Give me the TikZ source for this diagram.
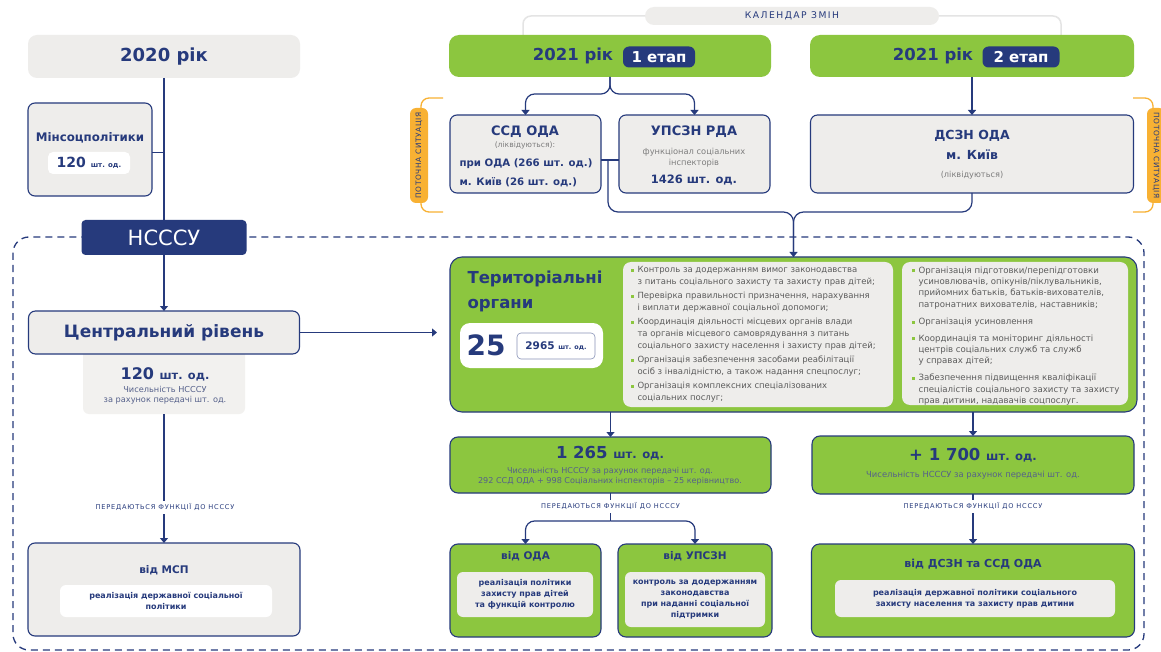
\documentclass[tikz,border=0pt]{standalone}
\usepackage{fontspec}
\setmainfont{DejaVu Sans}
\usetikzlibrary{arrows.meta}
\definecolor{navy}{HTML}{263A7C}
\definecolor{bgreen}{HTML}{8CC63F}
\definecolor{lgray}{HTML}{EEEDEB}
\definecolor{pgray}{HTML}{F2F1EF}
\definecolor{orng}{HTML}{F8B133}
\definecolor{tgray}{HTML}{5C5C5C}
\definecolor{cline}{HTML}{E4E4E4}
\definecolor{sgray}{HTML}{55608A}
\newcommand\myfs[2]{\fontsize{#1}{#2}\selectfont}
\newcommand\bu{\makebox[7pt][l]{\textcolor{bgreen}{\rule[0.6pt]{3pt}{3pt}}}}
\newcommand\ind{\hspace*{7pt}}
\tikzset{
  box/.style={inner sep=0pt, outer sep=0pt},
  graybox/.style={box, draw=navy, line width=1.1pt, fill=lgray, rounded corners=7pt},
  greenbox/.style={box, draw=navy, line width=1.1pt, fill=bgreen, rounded corners=8pt},
  conn/.style={draw=navy, line width=1.2pt},
  arr/.style={conn, -{Triangle[width=8pt,length=5pt]}},
  ttl/.style={text=navy, font=\bfseries\myfs{13}{15}},
  small/.style={text=sgray, font=\myfs{8.2}{10}, align=center},
  lbl/.style={box, fill=white, minimum height=13, text=navy, font=\myfs{6.6}{7}\addfontfeature{LetterSpace=12}},
  inner/.style={box, rounded corners=6pt, text=navy, align=center, font=\bfseries\myfs{8}{11}},
  opill/.style={box, fill=orng, rounded corners=6pt, minimum width=95, minimum height=18, text=navy, font=\myfs{7.4}{8}\addfontfeature{LetterSpace=8}},
  orline/.style={draw=orng, line width=1.3pt, rounded corners=8pt},
  ytitle/.style={text=navy, font=\bfseries\myfs{16.5}{17}},
  etap/.style={box, fill=navy, rounded corners=6pt, minimum height=21, text=white, font=\bfseries\myfs{15}{15}},
  bullets/.style={anchor=north west, align=left, text=tgray, font=\myfs{8.5}{11.7}}
}
\begin{document}
\begin{tikzpicture}[x=1pt,y=-1pt]
\useasboundingbox (0,0) rectangle (1161,652);
\fill[white] (0,0) rectangle (1161,652);

% dashed frame
\draw[navy, line width=1.3pt, dash pattern=on 7pt off 5pt, rounded corners=16pt] (13,237) rectangle (1144,650);

% ---------- left column ----------
\node[box, fill=lgray, rounded corners=9pt, minimum width=272, minimum height=43, text=navy, font=\bfseries\myfs{18}{18}] (y20) at (164,56.5) {2020 рік};
\node[graybox, minimum width=124, minimum height=93] (minsoc) at (90,149.5) {};
\node[ttl, font=\bfseries\myfs{11.8}{12}] (minsoct) at (90,138) {Мінсоцполітики};
\node[box, fill=white, rounded corners=5pt, minimum width=82, minimum height=22, text=navy] (minsocn) at (89,163) {\bfseries\myfs{14}{14}120 \myfs{7}{8}шт. од.};
\node[box, fill=navy, rounded corners=4pt, minimum width=165, minimum height=35, text=white, font=\myfs{21}{21}] (nsssu) at (164,237.5) {НСССУ};
\draw[conn] (y20.south) -- (nsssu.north);
\coordinate (mj) at (164,152.5);
\draw[conn] (minsoc.east |- mj) -- (mj);

\node[box, fill=pgray, rounded corners=6pt, minimum width=162, minimum height=69] (censub) at (164,379.5) {};
\node[graybox, minimum width=271, minimum height=43, ttl, font=\bfseries\myfs{17}{17}] (central) at (164,332.5) {Центральний рівень};
\node[text=navy, font=\bfseries] (cn) at (165,374) {\myfs{16}{16}120 \myfs{11.4}{12}шт. од.};
\node[small] (cs) at (165,395) {Чисельність НСССУ\\за рахунок передачі шт. од.};
\draw[arr] (nsssu.south) -- (central.north);
\coordinate (carr) at (437,332.5);
\draw[arr] (central.east) -- (carr);

\node[graybox, minimum width=272, minimum height=93] (msp) at (164,589.5) {};
\draw[arr] (censub.south) -- (msp.north);
\node[lbl, minimum width=166] (l1) at (165,507) {ПЕРЕДАЮТЬСЯ ФУНКЦІЇ ДО НСССУ};
\node[ttl, font=\bfseries\myfs{10.5}{11}] (mspt) at (164,570) {від МСП};
\node[inner, fill=white, minimum width=212, minimum height=32] (mspi) at (166,601) {реалізація державної соціальної\\політики};

% ---------- calendar ----------
\node[box, fill=lgray, rounded corners=9pt, minimum width=294, minimum height=18, text=navy, font=\myfs{9.2}{10}\addfontfeature{LetterSpace=16}] (cal) at (792,16) {КАЛЕНДАР ЗМІН};
\coordinate (cl) at (523,35);
\coordinate (cr) at (1061,35);
\draw[cline, line width=1.5pt, rounded corners=8pt] (cl) |- (cal.west);
\draw[cline, line width=1.5pt, rounded corners=8pt] (cal.east) -| (cr);

% ---------- 2021 stage 1 ----------
\node[box, fill=bgreen, rounded corners=10pt, minimum width=322, minimum height=42] (y21a) at (610,56) {};
\node[ytitle] (y21at) at (573,56) {2021 рік};
\node[etap, minimum width=72] (e1) at (659,57) {1 етап};
\node[graybox, minimum width=151, minimum height=78] (ssd) at (525.5,154) {};
\node[ttl] (ssdt) at (525,132) {ССД ОДА};
\node[small, text=tgray!80, font=\myfs{7.6}{8}] (ssdl) at (525,145) {(ліквідуються):};
\node[anchor=west, align=left, text=navy, font=\bfseries\myfs{10.2}{19}] (ssdn) at (456,172.5) {при ОДА (266 шт. од.)\\м. Київ (26 шт. од.)};
\node[graybox, minimum width=151, minimum height=78] (upsz) at (694.5,154) {};
\node[ttl] (upszt) at (694,132) {УПСЗН РДА};
\node[small, text=tgray!80, font=\myfs{8.3}{10.5}] (upszs) at (694,157.5) {функціонал соціальних\\інспекторів};
\node[text=navy, font=\bfseries\myfs{11.5}{12}] (upszn) at (694,180) {1426 шт. од.};
\draw[arr, rounded corners=9pt] (y21a.south) -- ++(0,17) -| (ssd.north);
\draw[arr, rounded corners=9pt] (y21a.south) -- ++(0,17) -| (upsz.north);

% ---------- 2021 stage 2 ----------
\node[box, fill=bgreen, rounded corners=10pt, minimum width=324, minimum height=42] (y21b) at (972,56) {};
\node[ytitle] (y21bt) at (933,56) {2021 рік};
\node[etap, minimum width=77] (e2) at (1021,57) {2 етап};
\node[graybox, minimum width=323, minimum height=78] (dszn) at (972,154) {};
\node[ttl, font=\bfseries\myfs{12.5}{13}] (dsznt) at (972,136) {ДСЗН ОДА};
\node[ttl, font=\bfseries\myfs{12.5}{13}] (dsznk) at (972,155) {м. Київ};
\node[small, text=tgray!80, font=\myfs{8.2}{9}] (dsznl) at (972,175) {(ліквідуються)};
\draw[arr] (y21b.south) -- (dszn.north);

% ---------- current situation brackets ----------
\draw[orline] (443,98) -| (421,155) |- (443,212);
\node[opill, rotate=90] (ps1) at (419,155.5) {ПОТОЧНА СИТУАЦІЯ};
\draw[orline] (1133,98) -| (1153,155) |- (1133,212);
\node[opill, rotate=-90] (ps2) at (1156,155.5) {ПОТОЧНА СИТУАЦІЯ};

% ---------- territorial ----------
\node[greenbox, minimum width=687, minimum height=155, rounded corners=12pt] (terr) at (793.5,334.5) {};
\coordinate (j1) at (608,160);
\coordinate (mrg) at (793.5,212);
\draw[conn] ([yshift=-6pt]ssd.east) -- ([yshift=-6pt]upsz.west);
\draw[conn, rounded corners=10pt] (j1) |- (mrg) -- (terr.north);
\draw[arr, rounded corners=10pt] (dszn.south) |- (mrg) -- (terr.north);

\node[anchor=west, align=left, text=navy, font=\bfseries\myfs{16.5}{25}] (terrt) at (464,291.5) {Територіальні\\органи};
\node[box, fill=white, rounded corners=10pt, minimum width=143, minimum height=45] (tw) at (531.5,345.5) {};
\node[text=navy, font=\bfseries\myfs{28}{28}] (t25) at (486,345.5) {25};
\node[box, draw=navy!55, line width=0.6pt, fill=white, rounded corners=4pt, minimum width=78, minimum height=26, text=navy] (t2965) at (556,346) {\bfseries\myfs{10.5}{10}2965 \myfs{6.5}{6}шт. од.};

\node[box, fill=lgray, rounded corners=8pt, minimum width=270, minimum height=145] (bl) at (758,334.5) {};
\node[bullets] (blt) at (627,263) {%
\bu Контроль за додержанням вимог законодавства\\
\ind з питань соціального захисту та захисту прав дітей;\\[2.6pt]
\bu Перевірка правильності призначення, нарахування\\
\ind і виплати державної соціальної допомоги;\\[2.6pt]
\bu Координація діяльності місцевих органів влади\\
\ind та органів місцевого самоврядування з питань\\
\ind соціального захисту населення і захисту прав дітей;\\[2.6pt]
\bu Організація забезпечення засобами реабілітації\\
\ind осіб з інвалідністю, а також надання спецпослуг;\\[2.6pt]
\bu Організація комплексних спеціалізованих\\
\ind соціальних послуг;};
\node[box, fill=lgray, rounded corners=8pt, minimum width=226, minimum height=143] (br) at (1015,333.5) {};
\node[bullets, font=\myfs{8.6}{11.4}] (brt) at (908,263) {%
\bu Організація підготовки/перепідготовки\\
\ind усиновлювачів, опікунів/піклувальників,\\
\ind прийомних батьків, батьків-вихователів,\\
\ind патронатних вихователів, наставників;\\[5.5pt]
\bu Організація усиновлення\\[5.5pt]
\bu Координація та моніторинг діяльності\\
\ind центрів соціальних служб та служб\\
\ind у справах дітей;\\[5.5pt]
\bu Забезпечення підвищення кваліфікації\\
\ind спеціалістів соціального захисту та захисту\\
\ind прав дитини, надавачів соцпослуг.};

% ---------- 1 265 ----------
\node[greenbox, minimum width=321, minimum height=56] (n1265) at (610.5,465) {};
\draw[arr] (terr.south -| n1265.north) -- (n1265.north);
\node[text=navy, font=\bfseries] (n1265t) at (610,453) {\myfs{16.5}{17}1 265 \myfs{11.6}{12}шт. од.};
\node[small, font=\myfs{8.1}{9.8}] (n1265s) at (610,476.5) {Чисельність НСССУ за рахунок передачі шт. од.\\292 ССД ОДА + 998 Соціальних інспекторів – 25 керівництво.};

\node[greenbox, minimum width=151, minimum height=93] (voda) at (525.5,590.5) {};
\node[greenbox, minimum width=154, minimum height=93] (vupsz) at (695,590.5) {};
\coordinate (bj) at (610.5,521);
\draw[conn] (n1265.south) -- (bj);
\draw[arr, rounded corners=9pt] (bj) -| (voda.north);
\draw[arr, rounded corners=9pt] (bj) -| (vupsz.north);
\node[lbl, minimum width=166] (l2) at (610.5,506) {ПЕРЕДАЮТЬСЯ ФУНКЦІЇ ДО НСССУ};
\node[ttl, font=\bfseries\myfs{10.5}{11}] (vodat) at (525.5,556) {від ОДА};
\node[inner, fill=lgray, minimum width=136, minimum height=45] (vodai) at (525,594.5) {реалізація політики\\захисту прав дітей\\та функцій контролю};
\node[ttl, font=\bfseries\myfs{10.5}{11}] (vupszt) at (695,556) {від УПСЗН};
\node[inner, fill=lgray, minimum width=140, minimum height=55, font=\bfseries\myfs{8}{11.2}] (vupszi) at (695,599.5) {контроль за додержанням\\законодавства\\при наданні соціальної\\підтримки};

% ---------- + 1 700 ----------
\node[greenbox, minimum width=322, minimum height=58] (n1700) at (973,465) {};
\draw[arr] (terr.south -| n1700.north) -- (n1700.north);
\node[text=navy, font=\bfseries] (n1700t) at (973,455) {\myfs{16.5}{17}+ 1 700 \myfs{11.6}{12}шт. од.};
\node[small, font=\myfs{8.4}{9}] (n1700s) at (973,475.5) {Чисельність НСССУ за рахунок передачі шт. од.};

\node[greenbox, minimum width=323, minimum height=93] (vdszn) at (973,590.5) {};
\draw[arr] (n1700.south) -- (vdszn.north);
\node[lbl, minimum width=160] (l3) at (973,506) {ПЕРЕДАЮТЬСЯ ФУНКЦІЇ ДО НСССУ};
\node[ttl, font=\bfseries\myfs{11}{11}] (vdsznt) at (973,564) {від ДСЗН та ССД ОДА};
\node[inner, fill=lgray, minimum width=280, minimum height=37] (vdszni) at (975,598.5) {реалізація державної політики соціального\\захисту населення та захисту прав дитини};
\end{tikzpicture}
\end{document}
